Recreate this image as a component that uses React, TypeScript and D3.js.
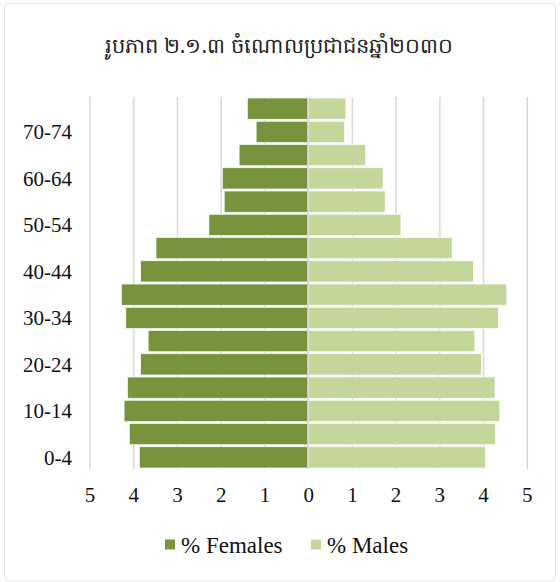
import { useRef, useEffect } from "react";
import * as d3 from "d3";

const ageGroups = [
  "0-4", "5-9", "10-14", "15-19", "20-24", "25-29", "30-34", "35-39",
  "40-44", "45-49", "50-54", "55-59", "60-64", "65-69", "70-74", "75+",
];
const females = [
  3.87, 4.1, 4.22, 4.14, 3.84, 3.67, 4.18, 4.28,
  3.84, 3.49, 2.28, 1.93, 1.97, 1.59, 1.2, 1.4,
];
const males = [
  4.04, 4.27, 4.37, 4.26, 3.95, 3.8, 4.34, 4.53,
  3.77, 3.28, 2.11, 1.75, 1.7, 1.3, 0.82, 0.85,
];
const shownLabels = ["0-4", "10-14", "20-24", "30-34", "40-44", "50-54", "60-64", "70-74"];
const xTicks = [-5, -4, -3, -2, -1, 0, 1, 2, 3, 4, 5];
const title = "រូបភាព ២.១.៣ ចំណោលប្រជាជនឆ្នាំ២០៣០";

const W = 560;
const H = 582;
const FEMALE = "#77933c";
const MALE = "#c4d79b";
const GRID = "#d9d9d9";
const SERIF = "'Liberation Serif', 'Times New Roman', serif";

export default function App() {
  const svgRef = useRef<SVGSVGElement | null>(null);

  useEffect(() => {
    if (!svgRef.current) return;
    const svg = d3.select(svgRef.current);
    svg.selectAll("*").remove();

    const left = 90, right = 527.3, top = 97, bottom = 469;

    const x = d3.scaleLinear().domain([-5, 5]).range([left, right]);
    const y = d3
      .scaleBand<string>()
      .domain([...ageGroups].reverse())
      .range([top, bottom])
      .paddingInner(0.09)
      .paddingOuter(0.045);

    // frame
    svg
      .append("rect")
      .attr("x", 4.5)
      .attr("y", 3.5)
      .attr("width", 551)
      .attr("height", 577)
      .attr("rx", 4)
      .attr("fill", "white")
      .attr("stroke", "#e6e6e6");

    svg
      .append("text")
      .attr("x", 279)
      .attr("y", 53)
      .attr("text-anchor", "middle")
      .style("font-family", "'Noto Sans', 'DejaVu Sans', sans-serif")
      .style("font-size", "21px")
      .attr("fill", "#222")
      .text(title);

    // gridlines
    svg
      .append("g")
      .selectAll("line")
      .data(xTicks.filter((t) => t !== 0))
      .join("line")
      .attr("x1", (d) => x(d))
      .attr("x2", (d) => x(d))
      .attr("y1", top)
      .attr("y2", bottom)
      .attr("stroke", GRID)
      .attr("stroke-width", 1.5);

    const rows = ageGroups.map((g, i) => ({ g, f: females[i], m: males[i] }));

    svg
      .append("g")
      .selectAll("rect")
      .data(rows)
      .join("rect")
      .attr("x", (d) => x(-d.f))
      .attr("y", (d) => y(d.g)!)
      .attr("width", (d) => x(0) - x(-d.f))
      .attr("height", y.bandwidth())
      .attr("fill", FEMALE)
      .attr("stroke", "white")
      .attr("stroke-width", 0.6);

    svg
      .append("g")
      .selectAll("rect")
      .data(rows)
      .join("rect")
      .attr("x", x(0))
      .attr("y", (d) => y(d.g)!)
      .attr("width", (d) => x(d.m) - x(0))
      .attr("height", y.bandwidth())
      .attr("fill", MALE)
      .attr("stroke", "white")
      .attr("stroke-width", 0.6);

    // zero axis line
    svg
      .append("line")
      .attr("x1", x(0) - 0.5)
      .attr("x2", x(0) - 0.5)
      .attr("y1", top)
      .attr("y2", bottom)
      .attr("stroke", GRID)
      .attr("stroke-width", 2);

    // y labels
    svg
      .append("g")
      .selectAll("text")
      .data(shownLabels)
      .join("text")
      .attr("x", 72)
      .attr("y", (d) => y(d)! + y.bandwidth() / 2)
      .attr("dy", "0.35em")
      .attr("text-anchor", "end")
      .style("font-family", SERIF)
      .style("font-size", "21px")
      .attr("fill", "#111")
      .text((d) => d);

    // x labels
    svg
      .append("g")
      .selectAll("text")
      .data(xTicks)
      .join("text")
      .attr("x", (d) => x(d))
      .attr("y", 502)
      .attr("text-anchor", "middle")
      .style("font-family", SERIF)
      .style("font-size", "21px")
      .attr("fill", "#111")
      .text((d) => String(Math.abs(d)));

    // legend
    const legend = [
      { label: "% Females", color: FEMALE, x: 165 },
      { label: "% Males", color: MALE, x: 311 },
    ];
    const lg = svg
      .append("g")
      .selectAll("g")
      .data(legend)
      .join("g")
      .attr("transform", (d) => `translate(${d.x},544.5)`);
    lg.append("rect")
      .attr("x", 0)
      .attr("y", -5)
      .attr("width", 10)
      .attr("height", 10)
      .attr("fill", (d) => d.color);
    lg.append("text")
      .attr("x", 16)
      .attr("dy", "0.35em")
      .style("font-family", SERIF)
      .style("font-size", "23px")
      .attr("fill", "#111")
      .text((d) => d.label);
  }, []);

  return (
    <svg
      ref={svgRef}
      width={W}
      height={H}
      style={{ position: "absolute", left: 0, top: 0, display: "block" }}
    />
  );
}
